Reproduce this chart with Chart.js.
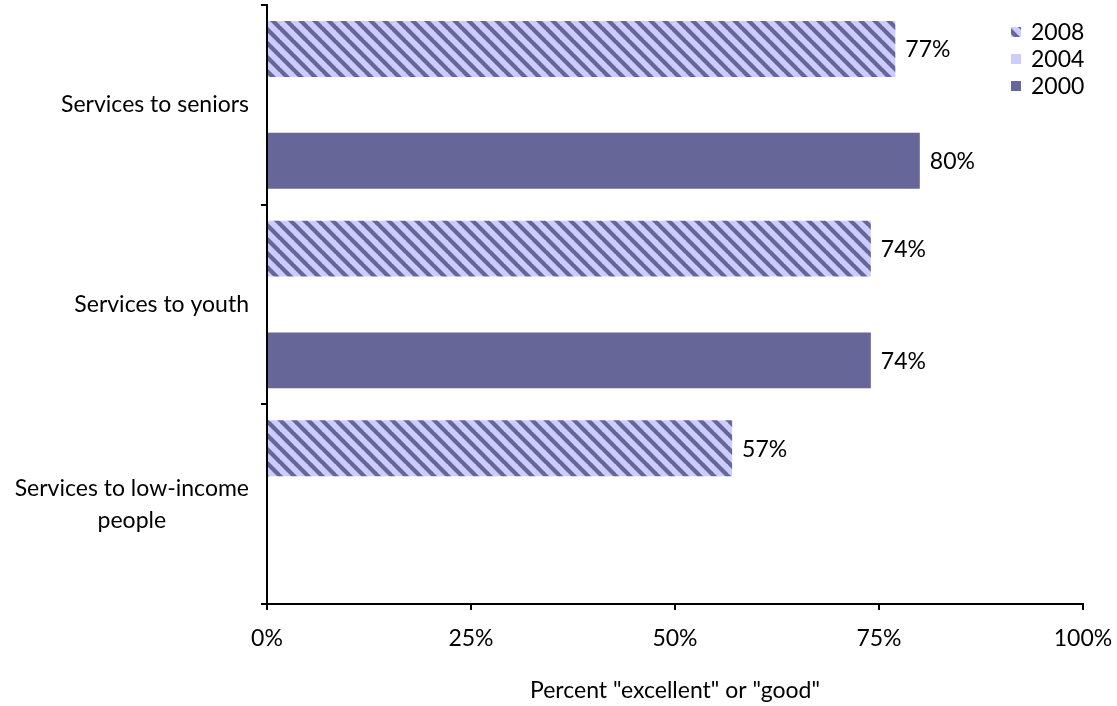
<!DOCTYPE html>
<html lang="en">
<head>
    <meta charset="UTF-8">
    <title>Services ratings</title>
    <script src="https://cdn.jsdelivr.net/npm/chart.js"></script>
    <style>
        html, body { margin: 0; padding: 0; background: #ffffff; }
        #wrap { width: 1117px; height: 706px; }
    </style>
</head>
<body>
    <div id="wrap"><canvas id="chart"></canvas></div>

    <script>
        // data
        const categories = ['Services to seniors', 'Services to youth', ['Services to low-income', 'people']];
        const years = ['2008', '2004', '2000'];
        const values2008 = [77, 74, 57];
        const values2004 = [null, null, null];
        const values2000 = [80, 74, null];
        const xTicks = [0, 25, 50, 75, 100];

        const FONT = 'Lato, "DejaVu Sans", sans-serif';
        const FSIZE = 23;
        const light = '#ccccff';
        const dark = '#666699';

        // diagonal hatch for 2008
        function makeHatch() {
            const n = 14;
            const c = document.createElement('canvas');
            c.width = n; c.height = n;
            const g = c.getContext('2d');
            g.fillStyle = light;
            g.fillRect(0, 0, n, n);
            g.strokeStyle = dark;
            g.lineWidth = 4.2;
            for (let k = -1; k <= 1; k++) {
                g.beginPath();
                g.moveTo(-1, k * n - 1);
                g.lineTo(n + 1, n + k * n + 1);
                g.stroke();
            }
            return document.getElementById('chart').getContext('2d').createPattern(c, 'repeat');
        }
        const hatch = makeHatch();

        // category labels: block right-aligned, lines centred inside (like the original)
        const yLabels = {
            id: 'yLabels',
            afterDraw(chart) {
                const ctx = chart.ctx;
                const y = chart.scales.y;
                ctx.save();
                ctx.font = FSIZE + 'px ' + FONT;
                ctx.fillStyle = '#000';
                ctx.textAlign = 'center';
                ctx.textBaseline = 'middle';
                chart.data.labels.forEach((lab, i) => {
                    const lines = Array.isArray(lab) ? lab : [lab];
                    const w = Math.max(...lines.map(l => ctx.measureText(l).width));
                    const cx = 249 - w / 2;
                    const cy = y.getPixelForTick(i);
                    const lh = 32;
                    lines.forEach((l, j) => {
                        ctx.fillText(l, cx, cy + (j - (lines.length - 1) / 2) * lh);
                    });
                });
                ctx.restore();
            }
        };

        // value labels at bar ends
        const valueLabels = {
            id: 'valueLabels',
            afterDatasetsDraw(chart) {
                const ctx = chart.ctx;
                ctx.save();
                ctx.font = FSIZE + 'px ' + FONT;
                ctx.fillStyle = '#000';
                ctx.textAlign = 'left';
                ctx.textBaseline = 'middle';
                chart.data.datasets.forEach((ds, di) => {
                    chart.getDatasetMeta(di).data.forEach((bar, i) => {
                        const v = ds.data[i];
                        if (v === null) return;
                        ctx.fillText(v + '%', bar.x + 10, bar.y + 1);
                    });
                });
                ctx.restore();
            }
        };

        // legend in the top right corner
        const cornerLegend = {
            id: 'cornerLegend',
            afterDraw(chart) {
                const ctx = chart.ctx;
                ctx.save();
                ctx.font = FSIZE + 'px ' + FONT;
                ctx.textBaseline = 'middle';
                chart.data.datasets.forEach((ds, i) => {
                    const y = 32 + i * 27;
                    ctx.fillStyle = ds.backgroundColor;
                    ctx.fillRect(1011, y - 5, 10, 10);
                    ctx.fillStyle = '#000';
                    ctx.fillText(ds.label, 1031, y + 1);
                });
                ctx.restore();
            }
        };

        new Chart(document.getElementById('chart'), {
            type: 'bar',
            data: {
                labels: categories,
                datasets: [
                    { label: years[0], data: values2008, backgroundColor: hatch },
                    { label: years[1], data: values2004, backgroundColor: light },
                    { label: years[2], data: values2000, backgroundColor: dark }
                ]
            },
            options: {
                indexAxis: 'y',
                responsive: true,
                maintainAspectRatio: false,
                animation: false,
                layout: { padding: { left: 0, right: 34, top: 5, bottom: 0 } },
                datasets: { bar: { categoryPercentage: 0.84, barPercentage: 1 } },
                plugins: {
                    legend: { display: false },
                    tooltip: { enabled: false }
                },
                scales: {
                    x: {
                        min: 0,
                        max: 100,
                        afterBuildTicks: s => { s.ticks = xTicks.map(v => ({ value: v })); },
                        afterFit: s => { s.height = 102; s.paddingLeft = 0; s.paddingRight = 0; },
                        border: { display: true, color: '#000', width: 2 },
                        grid: { drawOnChartArea: false, drawTicks: true, tickLength: 6, color: '#000', lineWidth: 2 },
                        ticks: {
                            color: '#000',
                            padding: 15,
                            maxRotation: 0,
                            font: { family: FONT, size: FSIZE },
                            callback: v => v + '%'
                        },
                        title: {
                            display: true,
                            text: 'Percent "excellent" or "good"',
                            color: '#000',
                            font: { family: FONT, size: FSIZE },
                            padding: { top: 0, bottom: 2 }
                        }
                    },
                    y: {
                        afterFit: s => { s.width = 267; s.paddingTop = 0; s.paddingBottom = 0; },
                        border: { display: true, color: '#000', width: 2 },
                        grid: { drawOnChartArea: false, drawTicks: true, tickLength: 6, color: '#000', lineWidth: 2 },
                        ticks: { display: false }
                    }
                }
            },
            plugins: [yLabels, valueLabels, cornerLegend]
        });
    </script>
</body>
</html>
